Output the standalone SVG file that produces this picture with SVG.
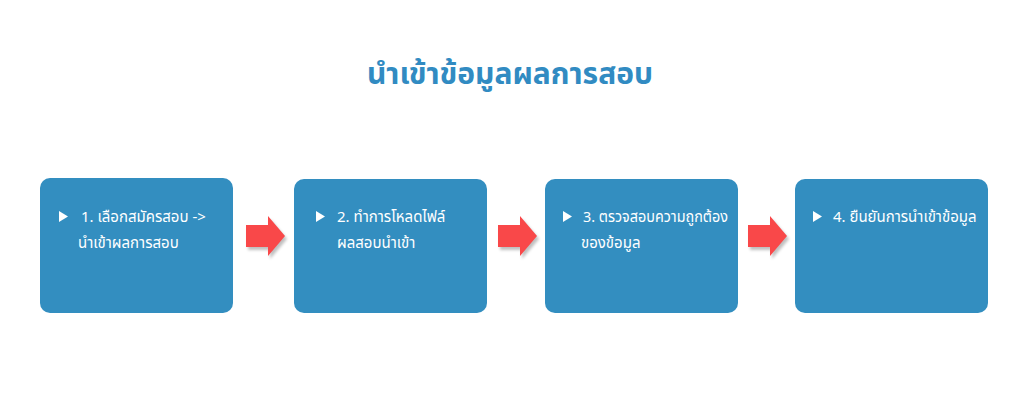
<svg xmlns="http://www.w3.org/2000/svg" width="1024" height="420" viewBox="0 0 1024 420">
<defs>
<style>
.box{fill:#338ec0;}
.t{font-family:"Noto Sans Thai","DejaVu Sans","Noto Sans",sans-serif;font-size:15px;fill:#ffffff;}
.title{font-family:"Noto Sans Thai","DejaVu Sans","Noto Sans",sans-serif;font-size:30px;font-weight:bold;fill:#318bc2;}
.bul{fill:#ffffff;}
.arr{fill:#f94849;}
.sh{fill:#000000;opacity:0.25;}
</style>
<filter id="blur" x="-20%" y="-20%" width="140%" height="140%"><feGaussianBlur stdDeviation="1.5"/></filter>
</defs>
<rect width="1024" height="420" fill="#ffffff"/>
<text class="title" x="510" y="84" text-anchor="middle">นำเข้าข้อมูลผลการสอบ</text>
<g id="connectors">
<g transform="translate(246,216)">
<path d="M0,9 H22 V0 L39,20 L22,40 V31 H0 Z" class="sh" filter="url(#blur)" transform="translate(2,3)"/>
<path d="M0,9 H22 V0 L39,20 L22,40 V31 H0 Z" class="arr"/>
</g>
<g transform="translate(498,216)">
<path d="M0,9 H22 V0 L39,20 L22,40 V31 H0 Z" class="sh" filter="url(#blur)" transform="translate(2,3)"/>
<path d="M0,9 H22 V0 L39,20 L22,40 V31 H0 Z" class="arr"/>
</g>
<g transform="translate(748,216)">
<path d="M0,9 H22 V0 L39,20 L22,40 V31 H0 Z" class="sh" filter="url(#blur)" transform="translate(2,3)"/>
<path d="M0,9 H22 V0 L39,20 L22,40 V31 H0 Z" class="arr"/>
</g>
</g>
<g id="node1">
<rect class="box" x="40" y="178" width="193" height="135" rx="10"/>
<path class="bul" d="M59,211 L68,216.5 L59,222 Z"/>
<text class="t" x="81" y="222">1. เลือกสมัครสอบ -&gt;</text>
<text class="t" x="78" y="248">นำเข้าผลการสอบ</text>
</g>
<g id="node2">
<rect class="box" x="294" y="179" width="193" height="134" rx="10"/>
<path class="bul" d="M316,211 L325,216.5 L316,222 Z"/>
<text class="t" x="337" y="222">2. ทำการโหลดไฟล์</text>
<text class="t" x="337" y="248">ผลสอบนำเข้า</text>
</g>
<g id="node3">
<rect class="box" x="545" y="179" width="193" height="134" rx="10"/>
<path class="bul" d="M563,211 L572,216.5 L563,222 Z"/>
<text class="t" x="583" y="222" textLength="145" lengthAdjust="spacingAndGlyphs">3. ตรวจสอบความถูกต้อง</text>
<text class="t" x="581" y="248">ของข้อมูล</text>
</g>
<g id="node4">
<rect class="box" x="795" y="179" width="193" height="134" rx="10"/>
<path class="bul" d="M813,211 L822,216.5 L813,222 Z"/>
<text class="t" x="833" y="222">4. ยืนยันการนำเข้าข้อมูล</text>
</g>
</svg>
